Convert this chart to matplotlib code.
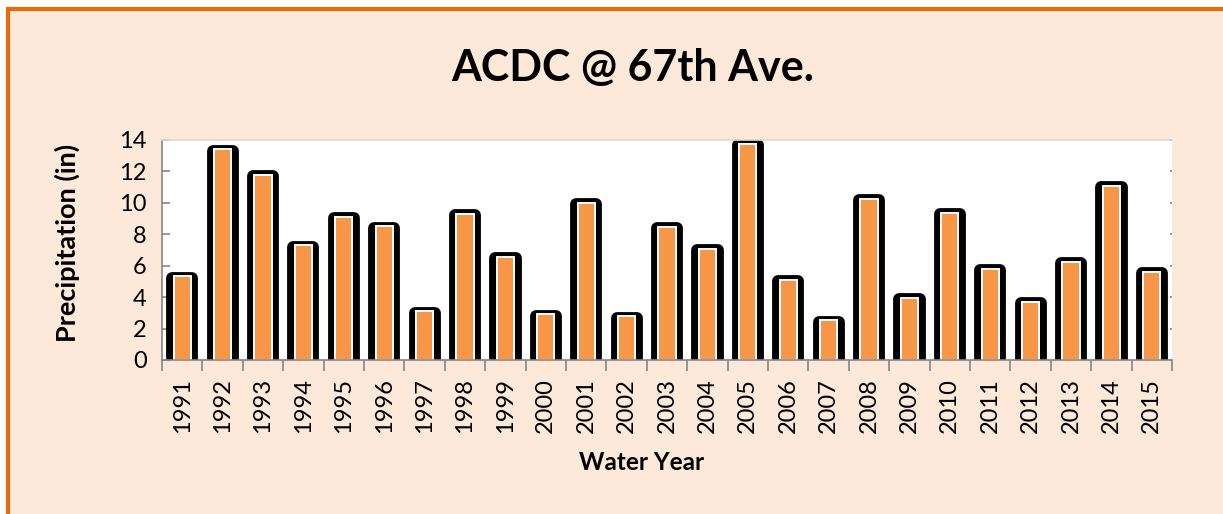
import matplotlib

matplotlib.use("Agg")
import matplotlib.pyplot as plt
from matplotlib.patches import Rectangle
import numpy as np

YEARS = [str(y) for y in range(1991, 2016)]
PRECIP = [5.35, 13.4, 11.8, 7.3, 9.13, 8.53, 3.12, 9.3, 6.56, 2.93,
          10.0, 2.8, 8.47, 7.07, 13.76, 5.1, 2.55, 10.25, 3.97, 9.38,
          5.82, 3.71, 6.26, 11.1, 5.62]

BG = "#FCE9DA"
BAR = "#F79646"
BORDER = "#E46C0A"
AXIS = "#868686"

plt.rcParams["font.family"] = ["Lato", "DejaVu Sans"]

W, H = 1223, 514
fig = plt.figure(figsize=(W / 100, H / 100), dpi=100, facecolor="white")

# chart area with orange frame (only left and top edges fall inside the image)
fig.patches.append(Rectangle((8 / W, -0.1), 1.2, 1.1 - 9.5 / H, transform=fig.transFigure,
                             facecolor=BG, edgecolor=BORDER, lw=3, zorder=-1))

ax = fig.add_axes([162 / W, 1 - 360 / H, (1172 - 162) / W, 220 / H])
ax.set_zorder(1)
ax.set_facecolor("white")
x = np.arange(len(YEARS))

# black rounded "shadow" behind each bar, then the orange bar with a white rim
shadow = [v - 0.1 for v in PRECIP]
ax.bar(x, shadow, width=0.5, color="black", edgecolor="black", lw=8.5,
       joinstyle="round", zorder=2)
ax.bar(x, PRECIP, width=0.43, color=BAR, edgecolor="white", lw=1.4, zorder=3)

ax.set_xlim(-0.5, len(YEARS) - 0.5)
ax.set_ylim(0, 14)
ax.set_yticks(range(0, 15, 2))
ax.set_xticks(x)
ax.set_xticklabels(YEARS, rotation=90, fontsize=17)
ax.set_xticks(np.arange(-0.5, len(YEARS)), minor=True)
ax.tick_params(axis="x", which="major", length=0, pad=13)
ax.tick_params(axis="x", which="minor", length=8, color=AXIS, width=1.2)
ax.tick_params(axis="y", labelsize=17, length=6, color=AXIS, width=1.2, pad=11)
ax.tick_params(axis="y", which="major", right=True, direction="in")
for t in ax.yaxis.get_major_ticks():
    t.tick2line.set_markersize(1.5)
    t.tick2line.set_color("#595959")
    t.tick1line.set_markersize(6)

for s in ("left", "bottom"):
    ax.spines[s].set_color(AXIS)
    ax.spines[s].set_linewidth(1.2)
ax.spines["top"].set_color("#D9D9D9")
ax.spines["top"].set_linewidth(1.2)
ax.spines["right"].set_visible(False)
ax.spines["bottom"].set_zorder(5)

fig.text(633 / W, 1 - 68 / H, "ACDC @ 67th Ave.", ha="center", va="center",
         fontsize=31, fontweight="bold")
fig.text(642 / W, 1 - 462 / H, "Water Year", ha="center", va="center",
         fontsize=17.5, fontweight="bold")
fig.text(67 / W, 1 - 243 / H, "Precipitation (in)", ha="center", va="center",
         rotation=90, fontsize=19.5, fontweight="bold")

fig.savefig("out.png", dpi=100, facecolor="white")
